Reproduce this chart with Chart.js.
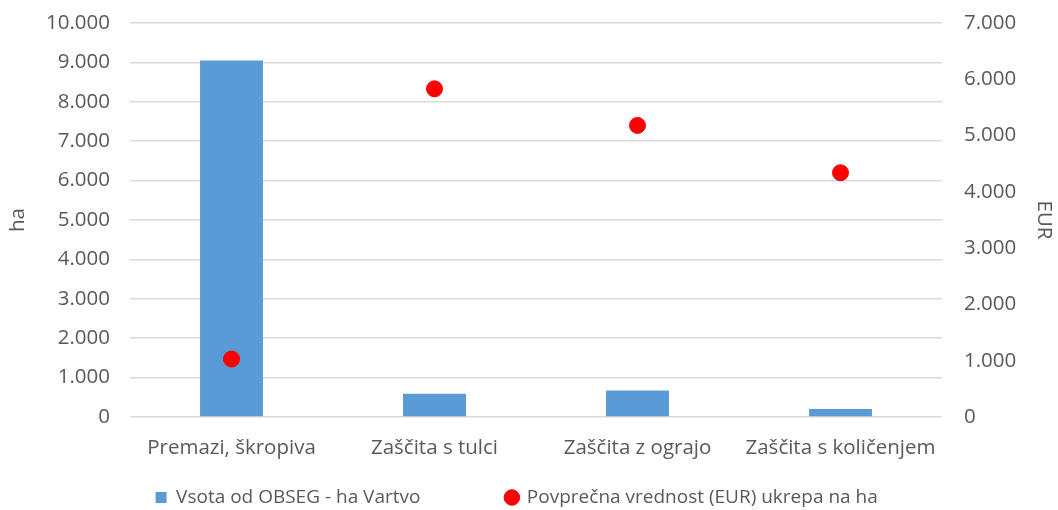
<!DOCTYPE html>
<html>
<head>
<meta charset="utf-8">
<script src="https://cdn.jsdelivr.net/npm/chart.js@4.4.1/dist/chart.umd.min.js"></script>
<style>
  body { margin: 0; background: #fff; }
</style>
</head>
<body>
<canvas id="myChart" width="1058" height="510"></canvas>
<script>
var categories = ['Premazi, škropiva', 'Zaščita s tulci', 'Zaščita z ograjo', 'Zaščita s količenjem'];
var areaHa = [9050, 590, 670, 200];
var avgEur = [1030, 5830, 5180, 4340];
var seriesNames = ['Vsota od OBSEG - ha Vartvo', 'Povprečna vrednost (EUR) ukrepa na ha'];

var textColor = '#595959';
var fontFamily = "'Open Sans', 'DejaVu Sans', sans-serif";
var fontSize = 20.5;
var legendSize = 19;

function fmt(v) {
  return String(v).replace(/\B(?=(\d{3})+(?!\d))/g, '.');
}

var ctx = document.getElementById('myChart').getContext('2d');
var myChart = new Chart(ctx, {
  type: 'bar',
  data: {
    labels: categories,
    datasets: [
      {
        label: seriesNames[0],
        data: areaHa,
        backgroundColor: '#5b9bd5',
        yAxisID: 'y',
        order: 1,
        barPercentage: 0.62,
        categoryPercentage: 0.5,
        pointStyle: 'rect'
      },
      {
        type: 'line',
        label: seriesNames[1],
        data: avgEur,
        yAxisID: 'y1',
        showLine: false,
        pointRadius: 8,
        pointHoverRadius: 8,
        backgroundColor: '#ff0000',
        borderColor: '#ff0000',
        pointStyle: 'circle',
        order: 0
      }
    ]
  },
  options: {
    responsive: false,
    animation: false,
    layout: {
      padding: { top: 23, bottom: -7, left: 0, right: 0 }
    },
    scales: {
      x: {
        grid: { display: false },
        border: { display: false },
        ticks: {
          color: textColor,
          font: { family: fontFamily, size: fontSize },
          padding: 11
        },
        afterFit: function (axis) { axis.height = 69; }
      },
      y: {
        position: 'left',
        min: 0,
        max: 10000,
        grid: { color: '#d9d9d9', lineWidth: 1.5, drawTicks: false },
        border: { display: false },
        ticks: {
          stepSize: 1000,
          color: textColor,
          font: { family: fontFamily, size: fontSize },
          padding: 20,
          callback: function (v) { return fmt(v); }
        },
        title: {
          display: true,
          text: 'ha',
          color: textColor,
          font: { family: fontFamily, size: fontSize },
          padding: { top: 6, bottom: 0 }
        },
        afterFit: function (axis) {
          axis.width = 130;
          axis.paddingTop = 0;
          axis.paddingBottom = 0;
        }
      },
      y1: {
        position: 'right',
        min: 0,
        max: 7000,
        grid: { display: false, drawTicks: false },
        border: { display: false },
        ticks: {
          stepSize: 1000,
          color: textColor,
          font: { family: fontFamily, size: fontSize },
          padding: 22,
          callback: function (v) { return fmt(v); }
        },
        title: {
          display: true,
          text: 'EUR',
          color: textColor,
          font: { family: fontFamily, size: fontSize },
          padding: { top: 2, bottom: 0 }
        },
        afterFit: function (axis) {
          axis.width = 116;
          axis.paddingTop = 0;
          axis.paddingBottom = 0;
        }
      }
    },
    plugins: {
      legend: {
        position: 'bottom',
        labels: {
          usePointStyle: true,
          boxWidth: 11,
          boxHeight: 11,
          padding: 2,
          color: textColor,
          font: { family: fontFamily, size: legendSize },
          sort: function (a, b) { return a.datasetIndex - b.datasetIndex; },
          generateLabels: function (chart) {
            var items = Chart.defaults.plugins.legend.labels.generateLabels(chart);
            items.forEach(function (it) {
              if (it.datasetIndex === 0) it.text = it.text + '                 ';
              else it.text = it.text + '     ';
            });
            return items;
          }
        }
      },
      tooltip: { enabled: false }
    }
  }
});
</script>
</body>
</html>
